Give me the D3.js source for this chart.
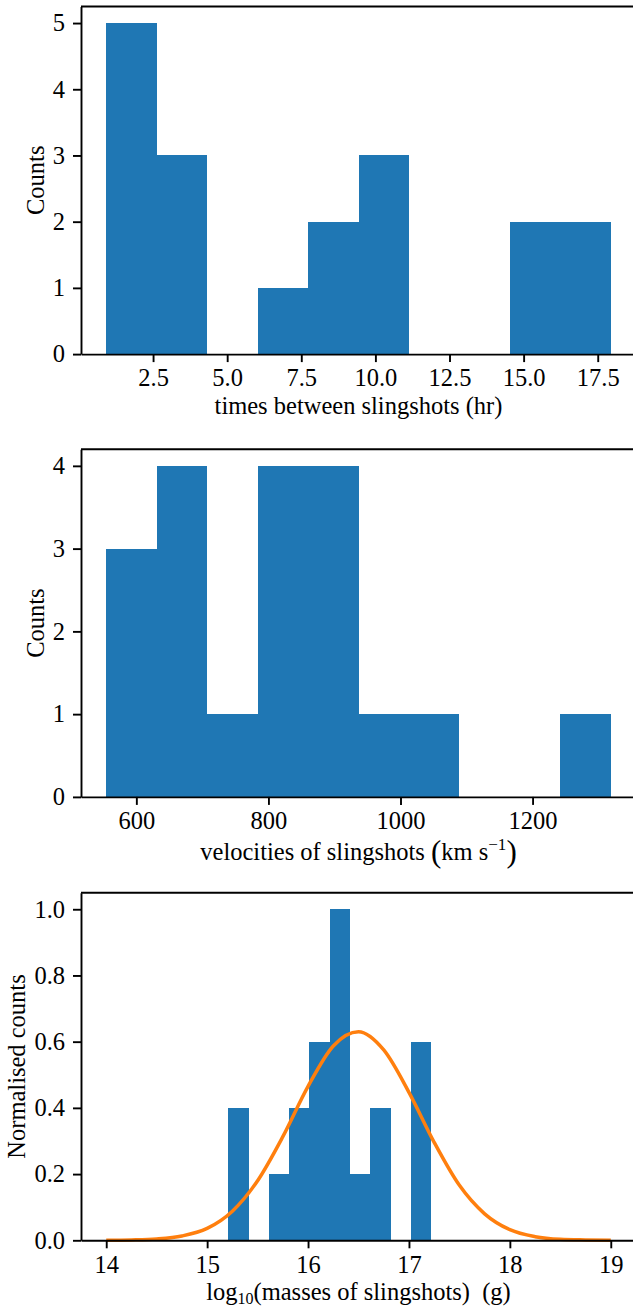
<!DOCTYPE html>
<html>
<head>
<meta charset="utf-8">
<script src="https://cdn.jsdelivr.net/npm/d3@7"></script>
<style>
  html, body { margin: 0; padding: 0; background: #fff; }
  svg { display: block; }
  text { font-family: "Liberation Serif", "Times New Roman", serif; fill: #000; white-space: pre; }
</style>
</head>
<body>
<div id="chart"></div>
<script>
// Times between consecutive slingshots (hr), 10 bins
const timeEdges = [0.92, 2.62, 4.32, 6.03, 7.73, 9.43, 11.13, 12.84, 14.54, 16.24, 17.94];
const timeCounts = [5, 3, 0, 1, 2, 3, 0, 0, 2, 2];
const timeTicks = [2.5, 5.0, 7.5, 10.0, 12.5, 15.0, 17.5];
const timeCountTicks = [0, 1, 2, 3, 4, 5];

// Slingshot velocities (km/s), 10 bins
const velocityEdges = [554.4, 630.8, 707.2, 783.6, 860.0, 936.4, 1012.8, 1089.2, 1165.6, 1242.0, 1318.4];
const velocityCounts = [3, 4, 1, 4, 4, 1, 1, 0, 0, 1];
const velocityTicks = [600, 800, 1000, 1200];
const velocityCountTicks = [0, 1, 2, 3, 4];

// log10 slingshot masses (g), counts normalised to the tallest bin
const massEdges = [15.21, 15.411, 15.612, 15.813, 16.014, 16.215, 16.416, 16.617, 16.818, 17.019, 17.22];
const massNorm = [0.4, 0, 0.2, 0.4, 0.6, 1.0, 0.2, 0.4, 0, 0.6];
const massTicks = [14, 15, 16, 17, 18, 19];
const normTicks = [0.0, 0.2, 0.4, 0.6, 0.8, 1.0];

// fitted gaussian, sampled along the mass axis
const fitX = [14.0, 14.25, 14.5, 14.75, 15.0, 15.25, 15.5, 15.75, 16.0, 16.25, 16.5,
              16.75, 17.0, 17.25, 17.5, 17.75, 18.0, 18.25, 18.5, 18.75, 19.0];
const fitY = [0.000, 0.001, 0.004, 0.013, 0.036, 0.088, 0.180, 0.313, 0.465, 0.587, 0.630,
              0.575, 0.447, 0.296, 0.166, 0.080, 0.032, 0.011, 0.003, 0.001, 0.000];

const width = 633, height = 1307;
const plotLeft = 81, plotRight = 636, plotHeight = 347.6;
const fontSize = 24.5;
const lineW = 1.9;
const barColor = '#1f77b4';
const fitColor = '#ff7f0e';

const svg = d3.select('#chart').append('svg')
    .attr('width', width)
    .attr('height', height);

// 5% padding either side, like matplotlib autoscaling
const padded = ([lo, hi]) => {
    const m = (hi - lo) * 0.05;
    return [lo - m, hi + m];
};

const styleAxis = (g) => {
    g.attr('font-size', null).attr('font-family', null);
    g.select('.domain').attr('stroke', '#000').attr('stroke-width', lineW);
    g.selectAll('.tick line').attr('stroke', '#000').attr('stroke-width', lineW);
    g.selectAll('.tick text').style('font-size', fontSize + 'px').attr('fill', '#000');
};

// label pieces: {t, size, shift} where shift moves the baseline down (px)
const richText = (sel, parts) => {
    let prev = 0;
    parts.forEach(p => {
        const shift = p.shift || 0;
        sel.append('tspan')
            .attr('dy', shift - prev)
            .style('font-size', (p.size || fontSize) + 'px')
            .text(p.t);
        prev = shift;
    });
};

const drawPanel = (top, cfg) => {
    const bottom = top + plotHeight;
    const g = svg.append('g');

    const x = d3.scaleLinear().domain(cfg.xDomain).range([plotLeft, plotRight]);
    const y = d3.scaleLinear().domain(cfg.yDomain).range([bottom, top]);

    const bins = cfg.values.map((v, i) => ({ x0: cfg.edges[i], x1: cfg.edges[i + 1], v }))
        .filter(d => d.v > 0);

    // crisp edges so neighbouring bars merge without a seam
    g.append('g')
        .attr('shape-rendering', 'crispEdges')
        .selectAll('rect')
        .data(bins)
        .join('rect')
        .attr('x', d => x(d.x0))
        .attr('width', d => x(d.x1) - x(d.x0))
        .attr('y', d => y(d.v))
        .attr('height', d => y(0) - y(d.v))
        .attr('fill', barColor);

    if (cfg.fit) {
        const line = d3.line()
            .x(d => x(d[0]))
            .y(d => y(d[1]))
            .curve(d3.curveMonotoneX);
        g.append('path')
            .datum(d3.zip(cfg.fit.x, cfg.fit.y))
            .attr('d', line)
            .attr('fill', 'none')
            .attr('stroke', fitColor)
            .attr('stroke-width', 3.5)
            .attr('stroke-linejoin', 'round');
    }

    // top and right spines
    g.append('line')
        .attr('x1', plotLeft).attr('x2', plotRight)
        .attr('y1', top).attr('y2', top)
        .attr('stroke', '#000').attr('stroke-width', lineW);
    g.append('line')
        .attr('x1', plotRight).attr('x2', plotRight)
        .attr('y1', top).attr('y2', bottom)
        .attr('stroke', '#000').attr('stroke-width', lineW);

    g.append('g')
        .attr('transform', `translate(0,${bottom})`)
        .call(d3.axisBottom(x).tickValues(cfg.xTicks).tickFormat(cfg.xFormat)
            .tickSize(8).tickSizeOuter(0).tickPadding(7))
        .call(styleAxis);

    g.append('g')
        .attr('transform', `translate(${plotLeft},0)`)
        .call(d3.axisLeft(y).tickValues(cfg.yTicks).tickFormat(cfg.yFormat)
            .tickSize(8).tickSizeOuter(0).tickPadding(8))
        .call(styleAxis);

    const xl = g.append('text')
        .attr('x', (plotLeft + plotRight) / 2)
        .attr('y', bottom + cfg.xLabelGap)
        .attr('text-anchor', 'middle')
        .style('font-size', fontSize + 'px');
    richText(xl, cfg.xLabel);

    g.append('text')
        .attr('transform', `translate(${cfg.yLabelX},${top + plotHeight / 2}) rotate(-90)`)
        .attr('text-anchor', 'middle')
        .style('font-size', fontSize + 'px')
        .text(cfg.yLabel);
};

drawPanel(6.5, {
    edges: timeEdges,
    values: timeCounts,
    xDomain: padded(d3.extent(timeEdges)),
    yDomain: [0, d3.max(timeCounts) * 1.05],
    xTicks: timeTicks,
    xFormat: d3.format('.1f'),
    yTicks: timeCountTicks,
    yFormat: d3.format('d'),
    xLabel: [{ t: 'times between slingshots (hr)' }],
    xLabelGap: 60,
    yLabel: 'Counts',
    yLabelX: 43.5
});

drawPanel(449.3, {
    edges: velocityEdges,
    values: velocityCounts,
    xDomain: padded(d3.extent(velocityEdges)),
    yDomain: [0, d3.max(velocityCounts) * 1.05],
    xTicks: velocityTicks,
    xFormat: d3.format('d'),
    yTicks: velocityCountTicks,
    yFormat: d3.format('d'),
    xLabel: [
        { t: 'velocities of slingshots ' },
        { t: '(', size: 31, shift: 2 },
        { t: 'km s' },
        { t: '\u22121', size: 17, shift: -10 },
        { t: ')', size: 31, shift: 2 }
    ],
    xLabelGap: 63,
    yLabel: 'Counts',
    yLabelX: 43.5
});

drawPanel(892.7, {
    edges: massEdges,
    values: massNorm,
    fit: { x: fitX, y: fitY },
    xDomain: padded(d3.extent(fitX)),
    yDomain: [0, d3.max(massNorm) * 1.05],
    xTicks: massTicks,
    xFormat: d3.format('d'),
    yTicks: normTicks,
    yFormat: d3.format('.1f'),
    xLabel: [
        { t: 'log' },
        { t: '10', size: 16, shift: 4 },
        { t: '(masses of slingshots)  (g)' }
    ],
    xLabelGap: 59.5,
    yLabel: 'Normalised counts',
    yLabelX: 25
});
</script>
</body>
</html>
